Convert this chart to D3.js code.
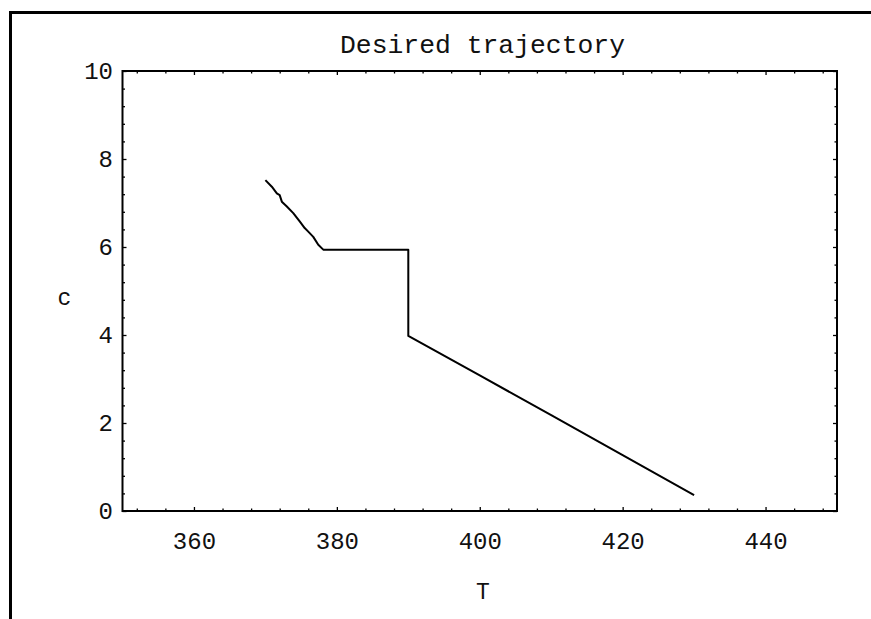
<!DOCTYPE html>
<html>
<head>
<meta charset="utf-8">
<script src="https://cdn.jsdelivr.net/npm/d3@7/dist/d3.min.js"></script>
<style>
  html, body { margin: 0; padding: 0; background: #fff; }
  svg { display: block; }
  text { font-family: "Courier New", "Liberation Mono", monospace; fill: #111; }
</style>
</head>
<body>
<svg id="chart" width="871" height="619"></svg>
<script>
// ---- data ----
const tValues = [370, 370.9, 371.6, 372.0, 372.3, 373.0, 373.9, 374.8, 375.5, 376.0, 376.7, 377.4, 378.1, 390, 390, 400, 410, 420, 430];
const cValues = [7.52, 7.37, 7.22, 7.18, 7.03, 6.92, 6.77, 6.58, 6.43, 6.35, 6.23, 6.05, 5.94, 5.94, 3.98, 3.08, 2.18, 1.27, 0.36];
const xMajorTicks = [360, 380, 400, 420, 440];
const xMinorTicks = [352, 356, 364, 368, 372, 376, 384, 388, 392, 396, 404, 408, 412, 416, 424, 428, 432, 436, 444, 448];
const yMajorTicks = [0, 2, 4, 6, 8, 10];
const yMinorTicks = [0.4, 0.8, 1.2, 1.6, 2.4, 2.8, 3.2, 3.6, 4.4, 4.8, 5.2, 5.6, 6.4, 6.8, 7.2, 7.6, 8.4, 8.8, 9.2, 9.6];
const titleText = "Desired trajectory";
const xLabel = "T";
const yLabel = "c";

(function () {
const svg = d3.select("#chart");
const pLeft = 122.5, pRight = 837, pTop = 71, pBottom = 511;

const x = d3.scaleLinear().domain([350, 450]).range([pLeft, pRight]);
const y = d3.scaleLinear().domain([0, 10]).range([pBottom, pTop]);

// outer border (left and top)
svg.append("line").attr("x1", 10.5).attr("y1", 12.5).attr("x2", 871).attr("y2", 12.5)
  .attr("stroke", "#000").attr("stroke-width", 3);
svg.append("line").attr("x1", 10.5).attr("y1", 11).attr("x2", 10.5).attr("y2", 619)
  .attr("stroke", "#000").attr("stroke-width", 3);

// title
svg.append("text").attr("x", 482.5).attr("y", 53).attr("text-anchor", "middle")
  .style("font-size", "26.4px").text(titleText);

function styleAxis(g) {
  g.select(".domain").remove();
  g.selectAll(".tick line").attr("stroke", "#000").attr("stroke-width", 1.3);
  g.selectAll("text").style("font-size", "24px").attr("fill", "#111");
}

// bottom axis (major, with labels)
svg.append("g").attr("transform", `translate(0,${pBottom})`)
  .call(d3.axisBottom(x).tickValues(xMajorTicks).tickSize(-4).tickSizeOuter(0).tickPadding(21).tickFormat(d3.format("d")))
  .call(styleAxis);
svg.append("g").attr("transform", `translate(0,${pBottom})`)
  .call(d3.axisBottom(x).tickValues(xMinorTicks).tickSize(-2.5).tickSizeOuter(0).tickFormat(""))
  .call(styleAxis);
// top axis ticks
svg.append("g").attr("transform", `translate(0,${pTop})`)
  .call(d3.axisTop(x).tickValues(xMajorTicks).tickSize(-4).tickSizeOuter(0).tickFormat(""))
  .call(styleAxis);
svg.append("g").attr("transform", `translate(0,${pTop})`)
  .call(d3.axisTop(x).tickValues(xMinorTicks).tickSize(-2.5).tickSizeOuter(0).tickFormat(""))
  .call(styleAxis);

// left axis
svg.append("g").attr("transform", `translate(${pLeft},0)`)
  .call(d3.axisLeft(y).tickValues(yMajorTicks).tickSize(-4).tickSizeOuter(0).tickPadding(9.5).tickFormat(d3.format("d")))
  .call(styleAxis);
svg.append("g").attr("transform", `translate(${pLeft},0)`)
  .call(d3.axisLeft(y).tickValues(yMinorTicks).tickSize(-2.5).tickSizeOuter(0).tickFormat(""))
  .call(styleAxis);
// right axis ticks
svg.append("g").attr("transform", `translate(${pRight},0)`)
  .call(d3.axisRight(y).tickValues(yMajorTicks).tickSize(-4).tickSizeOuter(0).tickFormat(""))
  .call(styleAxis);
svg.append("g").attr("transform", `translate(${pRight},0)`)
  .call(d3.axisRight(y).tickValues(yMinorTicks).tickSize(-2.5).tickSizeOuter(0).tickFormat(""))
  .call(styleAxis);

// frame
svg.append("rect").attr("x", pLeft).attr("y", pTop).attr("width", pRight - pLeft).attr("height", pBottom - pTop)
  .attr("fill", "none").attr("stroke", "#000").attr("stroke-width", 2);

// data line
const pts = tValues.map((t, i) => [t, cValues[i]]);
svg.append("path").datum(pts)
  .attr("d", d3.line().x(d => x(d[0])).y(d => y(d[1])))
  .attr("fill", "none").attr("stroke", "#000").attr("stroke-width", 2).attr("stroke-linejoin", "round");

// axis labels
svg.append("text").attr("x", 483).attr("y", 599).attr("text-anchor", "middle")
  .style("font-size", "23px").text(xLabel);
svg.append("text").attr("x", 64.5).attr("y", 305).attr("text-anchor", "middle")
  .style("font-size", "23px").text(yLabel);
})();
</script>
</body>
</html>
